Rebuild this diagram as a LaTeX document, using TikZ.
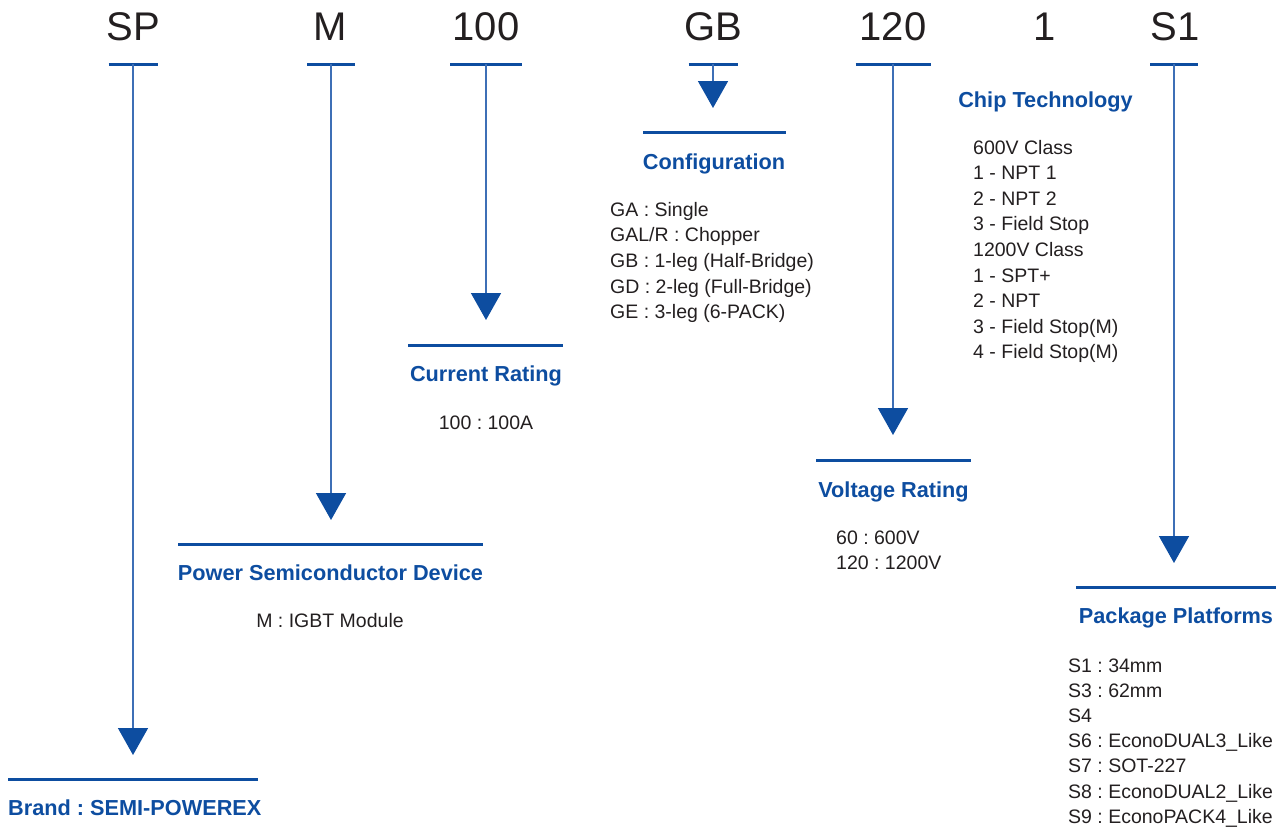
\documentclass[tikz,border=0pt]{standalone}
\usepackage{fontspec}
\setmainfont{Liberation Sans}
\usetikzlibrary{arrows.meta, positioning}
\definecolor{pwxblue}{HTML}{0D4DA0}
\definecolor{stemblue}{HTML}{3D6FB6}
\definecolor{inkgray}{HTML}{231F20}
\frenchspacing
\tikzset{
  code/.style={anchor=base, inner sep=0pt, text=inkgray, font=\fontsize{40}{40}\selectfont},
  head/.style={anchor=base, inner sep=0pt, text=pwxblue, font=\fontsize{21.7}{26}\selectfont\bfseries},
  item/.style={anchor=base west, inner sep=0pt, text=inkgray, font=\fontsize{19.5}{25.6}\selectfont},
  bar/.style={draw=pwxblue, line width=3pt},
  stem/.style={draw=stemblue, line width=1.6pt, -{Triangle[width=30pt,length=27pt,color=pwxblue]}},
}

\begin{document}
\begin{tikzpicture}[x=1pt,y=-1pt]
   \useasboundingbox (0,0) rectangle (1286,828);

   % part number
   \node[code] (sp)  at (133,40)  {SP};
   \node[code] (m)   at (330,40)  {M};
   \node[code] (cur) at (486,40)  {100};
   \node[code] (cfg) at (713,40)  {GB};
   \node[code] (vlt) at (893,40)  {120};
   \node[code] (chp) at (1045,40) {1};
   \node[code] (pkg) at (1175,40) {S1};

   % short bars under the code and stem start points
   \foreach \n/\x/\w in {sp/133/49, m/331/48, cur/486/72, cfg/713/49, vlt/893/75, pkg/1174/48} {
      \draw[bar] (\x-\w/2,64) -- (\x+\w/2,64);
      \coordinate (\n U) at (\x,64);
   }

   % arrow tips
   \coordinate (spT)  at (133,755);
   \coordinate (mT)   at (331,520);
   \coordinate (curT) at (486,320);
   \coordinate (cfgT) at (713,108);
   \coordinate (vltT) at (893,435);
   \coordinate (pkgT) at (1174,563);

   \foreach \n in {sp, m, cur, cfg, vlt, pkg}
      \draw[stem] (\n U) -- (\n T);

   % bars under the arrows
   \draw[bar] (8,779) -- (258,779);
   \draw[bar] (178,544) -- (483,544);
   \draw[bar] (408,345) -- (563,345);
   \draw[bar] (643,132) -- (786,132);
   \draw[bar] (816,460) -- (971,460);
   \draw[bar] (1076,587) -- (1276,587);

   % headings
   \node[head, anchor=base west] (spH) at (8,815) {Brand : SEMI-POWEREX};
   \node[head] (mH)   at (330.5,580) {Power Semiconductor Device};
   \node[head] (curH) at (486,381)   {Current Rating};
   \node[head] (cfgH) at (714,169)   {Configuration};
   \node[head] (vltH) at (893.5,497) {Voltage Rating};
   \node[head] (chpH) at (1045.5,107) {Chip Technology};
   \node[head] (pkgH) at (1176,623)  {Package Platforms};

   % values
   \node[item, anchor=base] (m1)   at (330,627) {M : IGBT Module};
   \node[item, anchor=base] (cur1) at (486,429) {100 : 100A};

   \foreach \t [count=\i] in {{GA : Single}, {GAL/R : Chopper}, {GB : 1-leg (Half-Bridge)},
         {GD : 2-leg (Full-Bridge)}, {GE : 3-leg (6-PACK)}}
      \node[item] (cfg\i) at (610,{216+(\i-1)*25.7}) {\t};

   \foreach \t [count=\i] in {{60 : 600V}, {120 : 1200V}}
      \node[item] (vlt\i) at (836,{544+(\i-1)*25.5}) {\t};

   \foreach \t [count=\i] in {{600V Class}, {1 - NPT 1}, {2 - NPT 2}, {3 - Field Stop},
         {1200V Class}, {1 - SPT+}, {2 - NPT}, {3 - Field Stop(M)}, {4 - Field Stop(M)}}
      \node[item] (chp\i) at (973,{154+(\i-1)*25.6}) {\t};

   \foreach \t [count=\i] in {{S1 : 34mm}, {S3 : 62mm}, {S4}, {S6 : EconoDUAL3\_Like},
         {S7 : SOT-227}, {S8 : EconoDUAL2\_Like}, {S9 : EconoPACK4\_Like}}
      \node[item] (pkg\i) at (1068,{672+(\i-1)*25.2}) {\t};
\end{tikzpicture}
\end{document}
